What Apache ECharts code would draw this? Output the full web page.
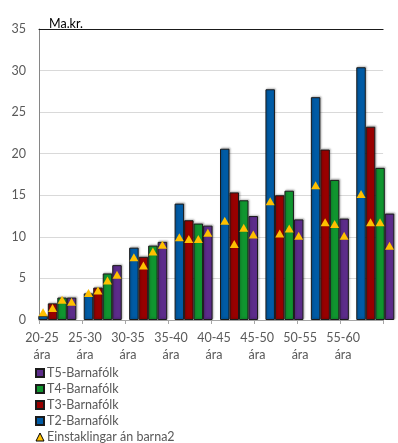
<!DOCTYPE html>
<html>
<head>
<meta charset="utf-8">
<script src="https://cdn.jsdelivr.net/npm/echarts@6/dist/echarts.min.js"></script>
<style>
html,body{margin:0;padding:0;background:#fff;}
#chart{width:398px;height:443px;}
</style>
</head>
<body>
<div id="chart"></div>
<script>
var categories = ['20-25\nára','25-30\nára','30-35\nára','35-40\nára','40-45\nára','45-50\nára','50-55\nára','55-60\nára'];
var t2 = [0.5, 3.2, 8.7, 14.0, 20.6, 27.75, 26.8, 30.4];
var t3 = [2.0, 3.9, 7.6, 12.0, 15.35, 15.0, 20.5, 23.25];
var t4 = [2.7, 5.6, 8.95, 11.6, 14.4, 15.55, 16.85, 18.3];
var t5 = [2.7, 6.6, 9.4, 11.35, 12.5, 12.1, 12.2, 12.8];
var single2 = [1.0, 3.3, 7.6, 10.0, 12.0, 14.35, 16.25, 15.2];
var single3 = [1.5, 3.6, 6.6, 9.8, 9.2, 10.45, 11.8, 11.8];
var single4 = [2.5, 4.8, 8.3, 9.8, 11.15, 11.05, 11.6, 11.8];
var single5 = [2.25, 5.5, 9.1, 10.55, 10.35, 10.2, 10.2, 9.0];
var yTicks = {min: 0, max: 35, interval: 5};

var FONT = 'Lato';
var colors = {t2:'#005BA5', t3:'#980000', t4:'#10952F', t5:'#5C2C8A', tri:'#FFC000'};
var singleName = 'Einstaklingar án barna2';

function barSeries(name, data, color) {
  return {
    name: name, type: 'bar', xAxisIndex: 1, yAxisIndex: 1, data: data,
    barWidth: 9.5, barGap: '0%',
    itemStyle: {color: color, borderColor: '#1a1a1a', borderWidth: 1,
      shadowColor: 'rgba(0,0,0,0.25)', shadowBlur: 2, shadowOffsetX: 1, shadowOffsetY: -1},
    z: 2
  };
}
function triSeries(data) {
  return {
    name: singleName, type: 'pictorialBar', xAxisIndex: 1, yAxisIndex: 1, data: data,
    barWidth: 9.5, barGap: '0%',
    symbol: 'triangle', symbolSize: [9, 8], symbolPosition: 'end', symbolOffset: [0, '-50%'],
    itemStyle: {color: colors.tri, borderColor: '#000', borderWidth: 1},
    z: 5
  };
}

var chart = echarts.init(document.getElementById('chart'), null, {renderer: 'canvas'});
chart.setOption({
  animation: false,
  textStyle: {fontFamily: FONT},
  title: {text: 'Ma.kr.', left: 44, top: 12, textStyle: {fontFamily: FONT, fontSize: 12.5, fontWeight: 'normal', color: '#000'}},
  grid: [
    {left: 39, right: -15.4, top: 29, bottom: 123},
    {left: 34.6, right: -11, top: 29, bottom: 123}
  ],
  xAxis: [
    {type: 'category', gridIndex: 0, data: categories,
      axisLine: {show: true, lineStyle: {color: '#A6A6A6', width: 1}},
      axisTick: {show: true, length: 4, lineStyle: {color: '#A6A6A6'}},
      axisLabel: {color: '#595959', fontFamily: FONT, fontSize: 12.5, lineHeight: 17, margin: 9, padding: [0, 37, 0, 0], interval: 0}},
    {type: 'category', gridIndex: 1, data: categories, show: false},
    {type: 'category', gridIndex: 0, data: categories, position: 'top',
      axisLine: {show: true, lineStyle: {color: '#1a1a1a', width: 1}},
      axisTick: {show: false}, axisLabel: {show: false}}
  ],
  yAxis: [
    {type: 'value', gridIndex: 0, min: yTicks.min, max: yTicks.max, interval: yTicks.interval,
      axisLine: {show: true, lineStyle: {color: '#868686', width: 1}},
      axisTick: {show: false},
      splitLine: {show: true, lineStyle: {color: '#D9D9D9', width: 1}},
      axisLabel: {color: '#595959', fontFamily: FONT, fontSize: 12.5, margin: 13}},
    {type: 'value', gridIndex: 1, min: yTicks.min, max: yTicks.max, interval: yTicks.interval, show: false,
      splitLine: {show: false}}
  ],
  legend: {
    orient: 'vertical', left: 35, top: 366, height: 120, itemWidth: 8, itemHeight: 8, itemGap: 2, padding: 0,
    textStyle: {color: '#595959', fontFamily: FONT, fontSize: 12.5, lineHeight: 14, padding: [0,0,0,-2]},
    data: [
      {name: 'T5-Barnafólk', icon: 'rect'},
      {name: 'T4-Barnafólk', icon: 'rect'},
      {name: 'T3-Barnafólk', icon: 'rect'},
      {name: 'T2-Barnafólk', icon: 'rect'},
      {name: singleName, icon: 'triangle', itemStyle: {color: colors.tri, borderColor: '#000', borderWidth: 1}}
    ]
  },
  series: [
    barSeries('T2-Barnafólk', t2, colors.t2),
    barSeries('T3-Barnafólk', t3, colors.t3),
    barSeries('T4-Barnafólk', t4, colors.t4),
    barSeries('T5-Barnafólk', t5, colors.t5),
    triSeries(single2),
    triSeries(single3),
    triSeries(single4),
    triSeries(single5)
  ]
});
</script>
</body>
</html>
